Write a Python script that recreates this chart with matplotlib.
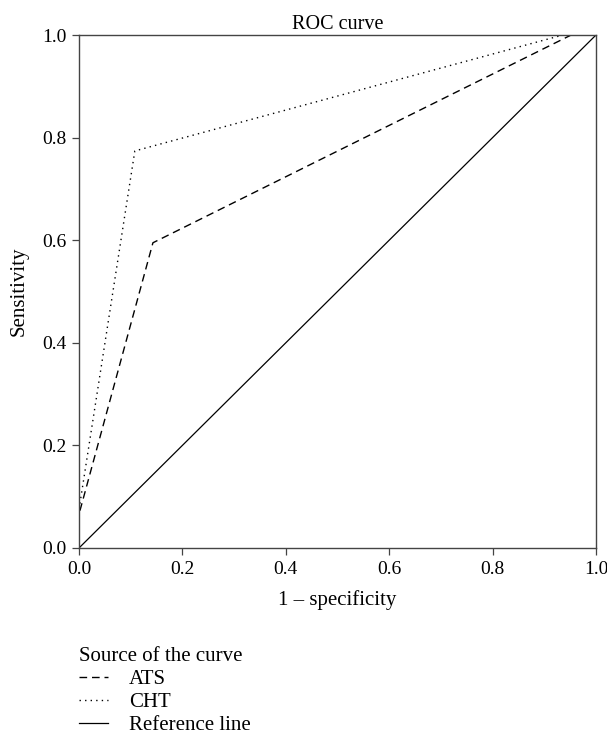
import matplotlib
matplotlib.use("Agg")
import matplotlib.pyplot as plt

# Data
ats_x = [0.0, 0.0, 0.143, 0.952, 1.0]
ats_y = [0.0, 0.066, 0.595, 1.0, 1.0]
cht_x = [0.0, 0.0, 0.108, 0.936, 1.0]
cht_y = [0.0, 0.075, 0.774, 1.0, 1.0]
ref_x = [0.0, 1.0]
ref_y = [0.0, 1.0]
ticks = [0.0, 0.2, 0.4, 0.6, 0.8, 1.0]
tick_labels = ["0.0", "0.2", "0.4", "0.6", "0.8", "1.0"]

plt.rcParams['font.family'] = ['Liberation Serif', 'DejaVu Serif']

fig = plt.figure(figsize=(6.07, 7.46), dpi=100)
ax = fig.add_axes([79/607, 1-548/746, (596-79)/607, (548-35)/746])

l1, = ax.plot(ats_x, ats_y, color='black', lw=1.0, ls=(0, (5.5, 3.5)), label='ATS')
l2, = ax.plot(cht_x, cht_y, color='black', lw=1.0, ls=(0, (1, 3)), label='CHT')
l3, = ax.plot(ref_x, ref_y, color='black', lw=0.9, ls='-', label='Reference line')

ax.set_xlim(0, 1)
ax.set_ylim(0, 1)
ax.set_xticks(ticks)
ax.set_xticklabels(tick_labels)
ax.set_yticks(ticks)
ax.set_yticklabels(tick_labels)
ax.tick_params(direction='out', length=5, width=0.9, color='#444444', labelsize=14, pad=4)
for s in ax.spines.values():
    s.set_color('#444444')
    s.set_linewidth(1.0)

ax.set_title('ROC curve', fontsize=14.5, pad=4)
ax.set_xlabel('1 \u2013 specificity', fontsize=15, labelpad=9)
ax.set_ylabel('Sensitivity', fontsize=15, labelpad=10)

leg = fig.legend(handles=[l1, l2, l3], loc='upper left',
                 bbox_to_anchor=(60/607, 1-628/746), frameon=False,
                 title='Source of the curve', fontsize=15, title_fontsize=15,
                 alignment='left', handlelength=1.4, handletextpad=1.0,
                 labelspacing=0.15)
leg._legend_box.sep = 3

fig.savefig('out.png', dpi=100)
